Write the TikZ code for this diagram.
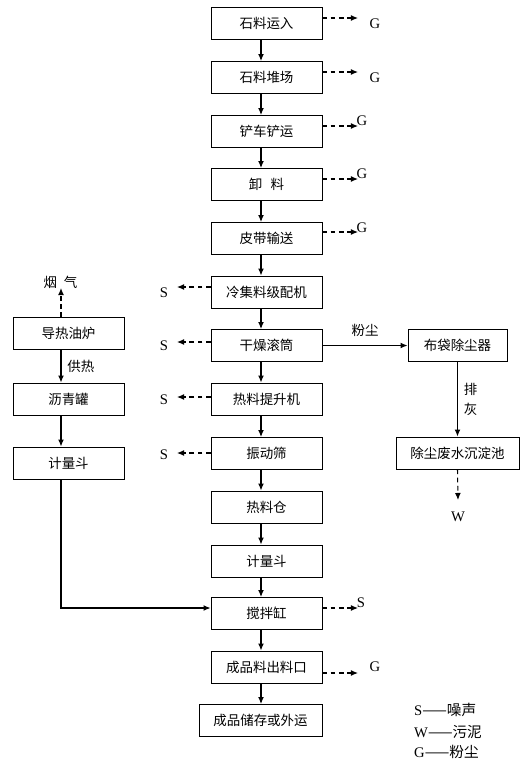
\documentclass[tikz,border=0pt]{standalone}
\usepackage{fontspec}
\setmainfont{Liberation Serif}
\newfontfamily\cjk{Noto Sans CJK SC}
\usetikzlibrary{arrows, arrows.meta, positioning}

\begin{document}
\begin{tikzpicture}[x=0.03cm, y=-0.03cm,
	box/.style={draw, line width=0.8pt, minimum width=3.33cm, minimum height=0.96cm, inner sep=0pt, font=\cjk\fontsize{11.5}{13}\selectfont},
	flow/.style={-{Latex[length=6pt, width=5pt]}, line width=0.9pt},
	emis/.style={-{Latex[length=6pt, width=5pt]}, line width=0.9pt, dash pattern=on 4pt off 3pt},
	lbl/.style={inner sep=0pt, font=\fontsize{12.5}{14}\selectfont},
	note/.style={inner sep=0pt, font=\cjk\fontsize{11.5}{13}\selectfont}]
	\useasboundingbox (0,0) rectangle (531,771);

	% main column
	\node[box] (b1) at (266.5,23.5) {石料运入};
	\node[box] (b2) at (266.5,77.5) {石料堆场};
	\node[box] (b3) at (266.5,131.5) {铲车铲运};
	\node[box] (b4) at (266.5,184.5) {卸\hspace{0.6em}料};
	\node[box] (b5) at (266.5,238.5) {皮带输送};
	\node[box] (b6) at (266.5,292) {冷集料级配机};
	\node[box] (b7) at (266.5,345.5) {干燥滚筒};
	\node[box] (b8) at (266.5,399) {热料提升机};
	\node[box] (b9) at (266.5,453.5) {振动筛};
	\node[box] (b10) at (266.5,507) {热料仓};
	\node[box] (b11) at (266.5,561) {计量斗};
	\node[box] (b12) at (266.5,613.5) {搅拌缸};
	\node[box] (b13) at (266.5,667) {成品料出料口};
	\node[box, minimum width=3.69cm] (b14) at (260.5,720.5) {成品储存或外运};

	\coordinate (mx) at (261,0);
	\foreach \a/\b in {b1/b2, b2/b3, b3/b4, b4/b5, b5/b6, b6/b7, b7/b8, b8/b9, b9/b10, b10/b11, b11/b12, b12/b13, b13/b14}
		\draw[flow] (\a.south -| mx) -- (\b.north -| mx);

	% left column
	\node[box] (l1) at (68.5,333.5) {导热油炉};
	\node[box] (l2) at (68.5,399) {沥青罐};
	\node[box] (l3) at (68.5,463) {计量斗};
	\node[note] (fume) at (60.5,282) {烟\hspace{0.5em}气};

	\coordinate (lx) at (61,0);
	\coordinate (fx) at (61,288);
	\coordinate (jn) at (61,608);
	\draw[emis] (l1.north -| lx) -- (fx);
	\draw[flow] (l1.south -| lx) -- node[note, right=5pt] {供热} (l2.north -| lx);
	\draw[flow] (l2.south -| lx) -- (l3.north -| lx);
	\draw[flow] (l3.south -| lx) -- (jn) -- (b12.west |- jn);

	% right column
	\node[box, minimum width=2.97cm] (r1) at (457.5,345.5) {布袋除尘器};
	\node[box, minimum width=3.69cm] (r2) at (457.5,453) {除尘废水沉淀池};
	\node[lbl] (w) at (458,517) {W};

	\coordinate (wx) at (458,500);
	\draw[flow] (b7.east) -- node[note, above=7pt] {粉尘} (r1.west);
	\draw[flow] (r1.south) -- node[note, align=center, right=5pt] {排\\[4pt]灰} (r2.north);
	\draw[emis] (r2.south) -- (wx);

	% emissions
	\node[lbl] (g1) at (375,24) {G};
	\node[lbl] (g2) at (375,78) {G};
	\node[lbl] (g3) at (362,121) {G};
	\node[lbl] (g4) at (362,174) {G};
	\node[lbl] (g5) at (362,228) {G};
	\node[lbl] (g13) at (375,667) {G};
	\node[lbl] (n12) at (361,603) {S};
	\node[lbl] (n6) at (164,293) {S};
	\node[lbl] (n7) at (164,346) {S};
	\node[lbl] (n8) at (164,400) {S};
	\node[lbl] (n9) at (164,455) {S};

	\foreach \b/\y in {b1/18, b2/72, b3/126, b4/179, b5/232, b12/608, b13/673} {
		\coordinate (t\b) at (358,\y);
		\draw[emis] (\b.east |- t\b) -- (t\b);
	}
	\foreach \b/\y in {b6/287, b7/342, b8/397, b9/453} {
		\coordinate (t\b) at (177,\y);
		\draw[emis] (\b.west |- t\b) -- (t\b);
	}

	% legend
	\node[lbl, anchor=west] (k1) at (414,710) {S{\cjk ——噪声}};
	\node[lbl, anchor=west] (k2) at (414,732) {W{\cjk ——污泥}};
	\node[lbl, anchor=west] (k3) at (414,752) {G{\cjk ——粉尘}};
\end{tikzpicture}
\end{document}
